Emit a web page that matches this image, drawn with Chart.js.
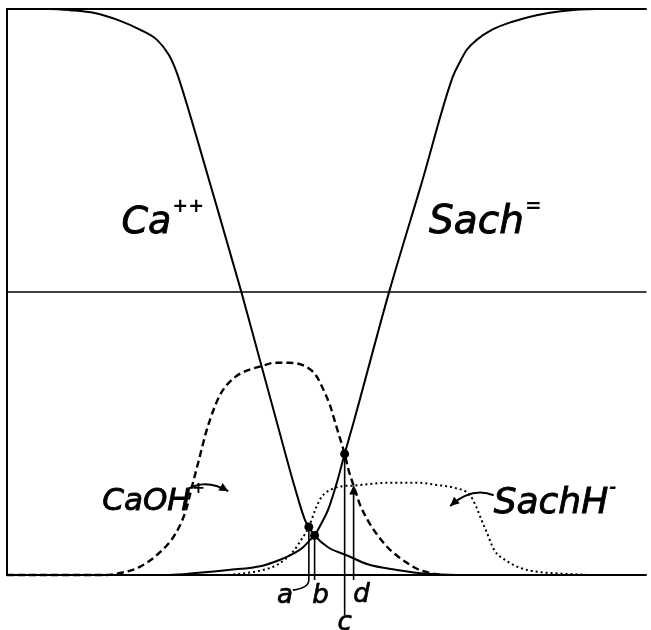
<!DOCTYPE html>
<html>
<head>
<meta charset="utf-8">
<script src="https://cdn.jsdelivr.net/npm/chart.js@4/dist/chart.umd.min.js"></script>
<style>
  html, body { margin: 0; background: #fff; }
  #wrap { width: 651px; height: 630px; }
</style>
</head>
<body>
<div id="wrap"><canvas id="grafico"></canvas></div>
<script>
// Fracción de cada especie (0-1) contra la abscisa (0-100)
const caX = [0, 6.7, 9.8, 13.7, 17.5, 20.7, 23.5, 25.3, 26.4, 27.3, 32.0, 36.6, 39.3, 42.1, 45.0, 46.6, 47.2, 48.1, 50.2, 53.3, 56.4, 61.0, 65.7, 70.3, 100];
const caY = [1, 1, 0.998, 0.993, 0.980, 0.964, 0.945, 0.919, 0.892, 0.862, 0.682, 0.502, 0.390, 0.274, 0.155, 0.097, 0.085, 0.070, 0.049, 0.034, 0.019, 0.009, 0.002, 0, 0];

const sachX = [0, 25.3, 30.0, 34.6, 39.8, 42.7, 45.0, 46.3, 47.4, 48.1, 49.2, 50.2, 51.7, 52.8, 54.3, 59.8, 64.8, 69.7, 70.8, 71.9, 73.4, 75.8, 78.9, 82.8, 86.6, 92.1, 100];
const sachY = [0, 0, 0.004, 0.009, 0.016, 0.027, 0.039, 0.049, 0.062, 0.070, 0.092, 0.115, 0.168, 0.214, 0.274, 0.502, 0.691, 0.880, 0.906, 0.928, 0.945, 0.963, 0.977, 0.989, 0.996, 1, 1];

const caohX = [0, 15.2, 18.3, 20.7, 23.8, 26.4, 28.0, 28.9, 30.0, 31.1, 32.3, 33.5, 35.7, 37.7, 39.8, 41.9, 43.9, 46.6, 48.3, 49.5, 50.5, 51.2, 52.0, 52.8, 53.4, 54.2, 55.1, 56.4, 57.9, 59.5, 61.0, 62.6, 64.1, 66.0, 68.0];
const caohY = [0, 0, 0.005, 0.014, 0.039, 0.074, 0.115, 0.155, 0.203, 0.251, 0.292, 0.322, 0.350, 0.362, 0.369, 0.375, 0.375, 0.369, 0.353, 0.327, 0.300, 0.274, 0.244, 0.214, 0.186, 0.158, 0.127, 0.097, 0.071, 0.049, 0.034, 0.021, 0.011, 0.004, 0];

const sachhX = [34.6, 39.3, 42.4, 44.7, 46.0, 47.2, 48.3, 49.2, 50.5, 52.5, 54.2, 59.5, 64.1, 67.2, 70.0, 72.4, 73.4, 74.2, 75.0, 76.2, 78.1, 80.4, 83.5, 87.4, 91.0];
const sachhY = [0, 0.007, 0.019, 0.041, 0.062, 0.085, 0.118, 0.138, 0.150, 0.157, 0.158, 0.163, 0.163, 0.159, 0.154, 0.141, 0.120, 0.097, 0.076, 0.044, 0.025, 0.012, 0.005, 0.002, 0];

// Puntos a, b, c, d sobre el eje
const marcas = ['a', 'b', 'c', 'd'];
const marcaX = [47.2, 48.1, 52.8, 54.2];
const marcaY = [0.085, 0.070, 0.214, 0.158];
const marcaFin = [-0.009, -0.009, -0.071, -0.009];
const conPunto = [true, true, true, false];

// Rótulos de las curvas
const rotulos = ['Ca', 'Sach', 'CaOH', 'SachH'];
const rotuloSup = ['++', '=', '+', '-'];
const rotuloX = [17.9, 66.0, 14.9, 76.1];
const rotuloY = [0.604, 0.604, 0.115, 0.110];
const rotuloTam = [38, 39, 31, 36];

const pares = (xs, ys) => xs.map((x, i) => ({x, y: ys[i]}));

function curva(xs, ys, dash, ancho) {
  return {
    data: pares(xs, ys),
    showLine: true,
    borderColor: '#000',
    borderWidth: ancho,
    borderDash: dash,
    pointRadius: 0,
    cubicInterpolationMode: 'monotone',
    clip: false
  };
}

const datasets = [
  curva(caX, caY, [], 2),
  curva(sachX, sachY, [], 2),
  curva(caohX, caohY, [7, 4], 2.4),
  curva(sachhX, sachhY, [2, 3], 2)
];

// líneas verticales de las marcas
marcas.forEach((m, i) => {
  datasets.push({
    data: [{x: marcaX[i], y: marcaY[i]}, {x: marcaX[i], y: marcaFin[i]}],
    showLine: true,
    borderColor: '#000',
    borderWidth: 1.6,
    pointRadius: 0,
    clip: false
  });
});

datasets.push({
  data: marcaX.map((x, i) => ({x, y: marcaY[i]})).filter((p, i) => conPunto[i]),
  pointRadius: 4.5,
  pointBackgroundColor: '#000',
  pointBorderWidth: 0,
  showLine: false,
  clip: false
});

const marco = {
  id: 'marco',
  beforeDatasetsDraw(chart) {
    const {ctx, chartArea: a, scales: {x, y}} = chart;
    ctx.save();
    ctx.strokeStyle = '#000';
    ctx.lineWidth = 2;
    ctx.beginPath();
    ctx.moveTo(a.right, y.getPixelForValue(1));
    ctx.lineTo(x.getPixelForValue(0), y.getPixelForValue(1));
    ctx.lineTo(x.getPixelForValue(0), y.getPixelForValue(0));
    ctx.lineTo(a.right, y.getPixelForValue(0));
    ctx.stroke();
    ctx.lineWidth = 1.3;
    ctx.beginPath();
    ctx.moveTo(x.getPixelForValue(0), y.getPixelForValue(0.5));
    ctx.lineTo(a.right, y.getPixelForValue(0.5));
    ctx.stroke();
    ctx.restore();
  }
};

function punta(ctx, px, py, ang, largo) {
  ctx.beginPath();
  ctx.moveTo(px, py);
  ctx.lineTo(px - largo * Math.cos(ang - 0.45), py - largo * Math.sin(ang - 0.45));
  ctx.lineTo(px - largo * Math.cos(ang + 0.45), py - largo * Math.sin(ang + 0.45));
  ctx.closePath();
  ctx.fill();
}

const textos = {
  id: 'textos',
  afterDatasetsDraw(chart) {
    const {ctx, scales: {x, y}} = chart;
    const fam = '"DejaVu Sans"';
    ctx.save();
    ctx.fillStyle = '#000';
    ctx.strokeStyle = '#000';
    ctx.textBaseline = 'alphabetic';

    rotulos.forEach((t, i) => {
      const px = x.getPixelForValue(rotuloX[i]);
      const py = y.getPixelForValue(rotuloY[i]);
      ctx.font = `italic ${rotuloTam[i]}px ${fam}`;
      ctx.lineWidth = 0.9;
      ctx.fillText(t, px, py);
      ctx.strokeText(t, px, py);
      const w = ctx.measureText(t).width;
      ctx.font = `italic bold ${Math.round(rotuloTam[i] * 0.5)}px ${fam}`;
      ctx.fillText(rotuloSup[i], px + w + 1, py - rotuloTam[i] * 0.55);
    });

    // flechas de CaOH+ y SachH-
    ctx.lineWidth = 2;
    const flecha = (x0, y0, cx, cy, x1, y1) => {
      const p0 = [x.getPixelForValue(x0), y.getPixelForValue(y0)];
      const pc = [x.getPixelForValue(cx), y.getPixelForValue(cy)];
      const p1 = [x.getPixelForValue(x1), y.getPixelForValue(y1)];
      ctx.beginPath();
      ctx.moveTo(p0[0], p0[1]);
      ctx.quadraticCurveTo(pc[0], pc[1], p1[0], p1[1]);
      ctx.stroke();
      punta(ctx, p1[0], p1[1], Math.atan2(p1[1] - pc[1], p1[0] - pc[0]), 10);
    };
    flecha(28.0, 0.150, 31.0, 0.172, 34.6, 0.148);
    flecha(76.1, 0.141, 72.7, 0.156, 69.3, 0.122);

    // flecha vertical de d
    const dx = x.getPixelForValue(marcaX[3]);
    const dy = y.getPixelForValue(marcaY[3]);
    punta(ctx, dx, dy, -Math.PI / 2, 10);

    // gancho de la marca a
    const ax = x.getPixelForValue(marcaX[0]);
    const ay = y.getPixelForValue(marcaFin[0]);
    ctx.lineWidth = 1.6;
    ctx.beginPath();
    ctx.moveTo(ax, ay);
    ctx.quadraticCurveTo(ax, ay + 8, ax - 16, ay + 10);
    ctx.stroke();

    ctx.font = `italic 26px ${fam}`;
    ctx.lineWidth = 0.7;
    ctx.textAlign = 'center';
    const letraDx = [-24, 6, 0, 8];
    const letraY = [603, 603, 630, 602];
    marcas.forEach((m, i) => {
      const lx = x.getPixelForValue(marcaX[i]) + letraDx[i];
      ctx.fillText(m, lx, letraY[i]);
      ctx.strokeText(m, lx, letraY[i]);
    });
    ctx.restore();
  }
};

new Chart(document.getElementById('grafico'), {
  type: 'scatter',
  data: {datasets},
  options: {
    responsive: true,
    maintainAspectRatio: false,
    animation: false,
    layout: {padding: {left: 7, top: 9, right: 0, bottom: 55}},
    plugins: {legend: {display: false}, tooltip: {enabled: false}},
    scales: {
      x: {type: 'linear', min: 0, max: 100, display: false},
      y: {type: 'linear', min: 0, max: 1, display: false}
    }
  },
  plugins: [marco, textos]
});
</script>
</body>
</html>
